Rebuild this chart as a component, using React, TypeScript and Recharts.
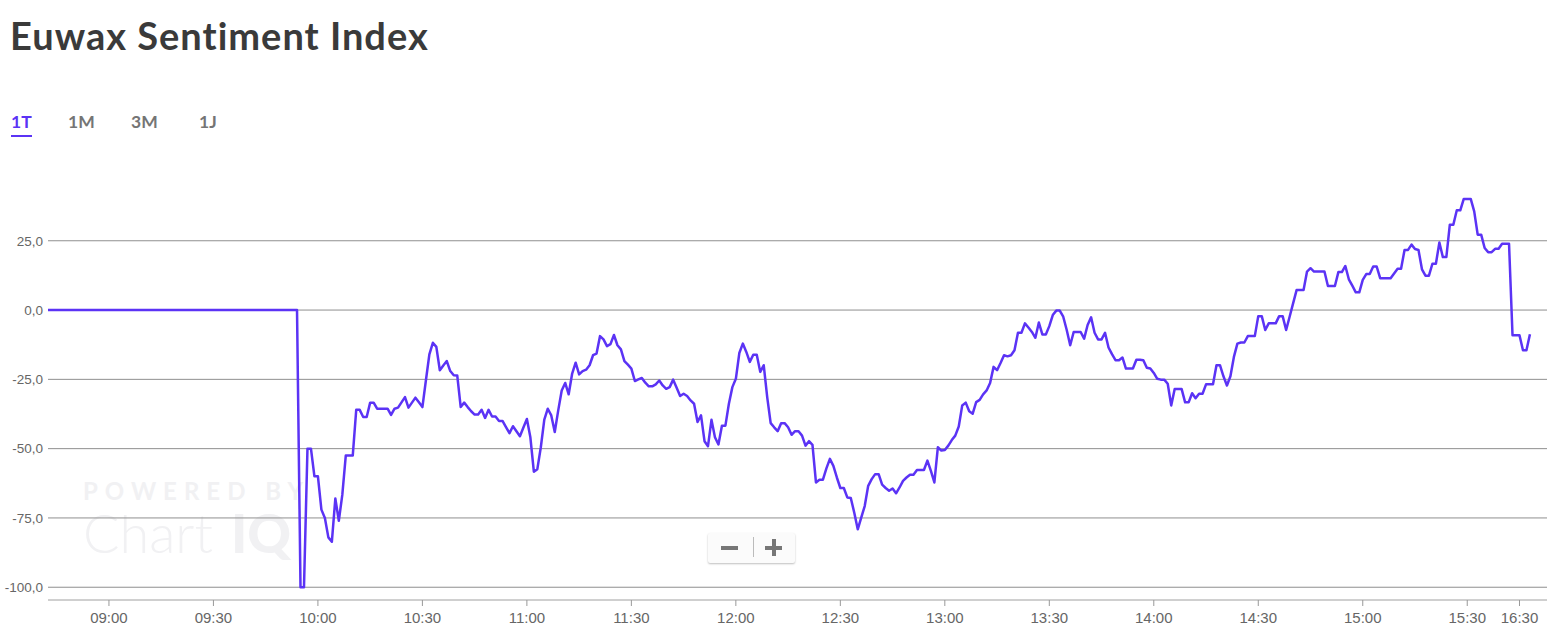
import React from 'react';
import { LineChart, Line, XAxis, YAxis, ReferenceLine } from 'recharts';

// x = minute bar index since 09:00, y = sentiment value
const PRE_OPEN_INDEX = -18;
const PRE_OPEN_VALUE = 0;
const OPEN_INDEX = 54;

const valuesA = [
  0, -100, -100, -50, -50, -60, -60, -72, -75, -82,
  -83.6, -68, -76, -66.7, -52.5, -52.5, -52.5, -36, -36, -38.6,
  -38.6, -33.4, -33.4, -35.6, -35.6, -35.6, -35.6, -37.8, -35.6, -35.2,
  -33.3, -31.4, -35.2, -33.4, -31.6, -33.3, -35, -25.4, -16, -11.8,
  -13.3, -21.7, -20, -18.4, -22, -23.5, -23.6, -35, -33.4, -35,
  -36.5, -37.7, -37.7, -36, -38.9, -36, -38.4, -38.4, -40, -40,
];
const valuesB = [
  -42.2, -44.4, -41.9, -43.7, -45.5, -42.4, -39.3, -45.9, -58.3, -57.4,
  -49.5, -39.5, -35.6, -38, -44, -36.2, -29, -26.3, -30.4, -22.9,
  -19, -23.2, -22, -21.5, -19.9, -16.3, -15.7, -9.4, -10.6, -13,
  -12.3, -9, -12.7, -14.2, -18.4, -19.7, -21.1, -25.6, -25, -24.5,
  -26.2, -27.5, -27.5, -26.8, -25.4, -27.2, -28.4, -27.8, -25.1, -28,
  -31, -30.2, -31, -32.6, -33.8, -40.4, -38, -47.3, -49.1, -39.6,
];
const valuesC = [
  -45.9, -48.5, -41.7, -41.7, -33.8, -27.8, -24.8, -15.5, -12.1, -15.1,
  -18.7, -16.1, -16.1, -22.3, -19.9, -31.4, -40.8, -42.3, -43.7, -40.8,
  -40.8, -42.3, -45, -43.7, -43.7, -45.3, -48.9, -47.3, -48.6, -62.2,
  -61.2, -61.2, -57.1, -53.7, -56.2, -60.4, -64.2, -64.2, -67.6, -67.8,
  -73.1, -79.1, -74.9, -70.7, -63.4, -61, -59.2, -59.2, -63, -64.2,
  -65.2, -64.4, -66.1, -64, -61.6, -60.4, -59.4, -59.4, -57.7, -57.7,
];
const valuesD = [
  -57.7, -54.3, -58, -62.2, -49.5, -50.7, -50.5, -48.9, -46.9, -45.3,
  -42, -34.4, -33.4, -36.5, -37.4, -33.2, -32.4, -30.4, -29, -26.3,
  -20.5, -21.7, -19.1, -16.3, -16.7, -16.3, -14.5, -8.2, -8.2, -4.8,
  -6.3, -7.9, -10, -4.5, -8.8, -8.8, -5.8, -1.8, -0.2, -0.2,
  -2.4, -7.2, -12.7, -7.9, -7.9, -7.9, -10.3, -5.4, -2.6, -8.2,
  -10.6, -10.6, -8.2, -13.5, -15.9, -18.1, -18.1, -17.1, -21.1, -21.1,
];
const valuesE = [
  -21.1, -17.9, -17.9, -18.1, -20.8, -21.1, -22.7, -24.8, -25.1, -25.1,
  -26.6, -34.4, -28.5, -28.5, -28.5, -33.3, -33.3, -30, -31.8, -30.2,
  -30.2, -26.8, -26.8, -26.8, -19.9, -19.9, -23.9, -27.2, -23.9, -16.9,
  -12.1, -11.7, -11.7, -9.4, -9.4, -9.4, -2.2, -2.2, -7.2, -4.8,
  -4.8, -4.8, -2.2, -2.2, -7.2, -2.4, 2.4, 7.2, 7.2, 7.2,
  13.9, 15.1, 13.9, 13.9, 13.9, 13.9, 8.7, 8.7, 8.7, 13.7,
];
const valuesF = [
  13.7, 15.9, 11.1, 8.8, 6.4, 6.4, 10.9, 13, 13, 15.7,
  15.7, 11.5, 11.5, 11.5, 11.5, 13.2, 14.9, 14.9, 21.7, 21.7,
  23.6, 22, 21.7, 14.7, 12.4, 12.4, 16.7, 16.7, 24.4, 19.1,
  19.1, 30.8, 30.8, 36, 36, 40.1, 40.1, 40.1, 35.6, 27.2,
  27.2, 22.4, 20.9, 20.9, 22.1, 22.1, 23.9, 23.9, 23.9, -9.1,
  -9.1, -9.1, -14.5, -14.5, -8.7,
];

const TICK_INDEX = [0, 30, 60, 90, 120, 150, 180, 210, 240, 270, 300, 330, 360, 390, 405];
const TICK_LABELS = [
  '09:00', '09:30', '10:00', '10:30', '11:00', '11:30', '12:00', '12:30',
  '13:00', '13:30', '14:00', '14:30', '15:00', '15:30', '16:30',
];
const Y_TICKS = [-100, -75, -50, -25, 0, 25];
const RANGES = ['1T', '1M', '3M', '1J'];
const RANGE_LEFT = [11, 68, 131, 199];

const PURPLE = '#5b33f5';

const series = [...valuesA, ...valuesB, ...valuesC, ...valuesD, ...valuesE, ...valuesF];
const data = [
  { i: PRE_OPEN_INDEX, v: PRE_OPEN_VALUE },
  ...series.map((v, k) => ({ i: OPEN_INDEX + k, v })),
];

const fmtY = (v: number) => v.toFixed(1).replace('.', ',');
const fmtX = (v: number) => TICK_LABELS[TICK_INDEX.indexOf(v)] ?? '';

export default function App() {
  return (
    <div style={{ position: 'relative', width: 1567, height: 643, background: '#fff', overflow: 'hidden' }}>
      <style>{'body{margin:0}'}</style>

      <div
        style={{
          position: 'absolute', left: 10, top: 16, fontFamily: 'Lato, sans-serif', fontWeight: 700,
          fontSize: 38, letterSpacing: 1, lineHeight: 1, color: '#3a3a3a', whiteSpace: 'nowrap',
        }}
      >
        Euwax Sentiment Index
      </div>

      {RANGES.map((r, k) => (
        <div
          key={r}
          style={{
            position: 'absolute', left: RANGE_LEFT[k], top: 113,
            fontFamily: 'Lato, sans-serif', fontWeight: 700, fontSize: 17.5, lineHeight: 1,
            color: k === 0 ? PURPLE : '#757575', paddingBottom: 4,
            borderBottom: k === 0 ? `2px solid ${PURPLE}` : '2px solid transparent',
          }}
        >
          {r}
        </div>
      ))}

      {/* ChartIQ watermark */}
      <div
        style={{
          position: 'absolute', left: 83, top: 479, color: '#f1f1f3', fontFamily: 'Lato, sans-serif',
          fontSize: 24, fontWeight: 700, letterSpacing: 7, lineHeight: 1, whiteSpace: 'nowrap',
        }}
      >
        POWERED BY
      </div>
      <div
        style={{
          position: 'absolute', left: 83, top: 506, color: '#f1f1f3', fontFamily: 'Lato, sans-serif',
          fontSize: 54, fontWeight: 300, lineHeight: 1, whiteSpace: 'nowrap',
        }}
      >
        Chart<span style={{ fontWeight: 900, marginLeft: 18 }}>IQ</span>
      </div>

      <div style={{ position: 'absolute', left: 0, top: 0 }}>
        <LineChart width={1567} height={643} data={data} margin={{ top: 182, right: 20, bottom: 0, left: 0 }}>
          <XAxis
            dataKey="i"
            type="number"
            domain={[-17.5, 412.9]}
            allowDataOverflow
            ticks={TICK_INDEX}
            tickFormatter={fmtX}
            height={43}
            tickSize={6}
            tickMargin={6}
            interval={0}
            axisLine={{ stroke: '#a0a0a0' }}
            tickLine={{ stroke: '#999' }}
            tick={{ fill: '#666', fontSize: 15, fontFamily: 'Liberation Sans, Arial, sans-serif' }}
          />
          <YAxis
            type="number"
            domain={[-104.6, 46.2]}
            allowDataOverflow
            ticks={Y_TICKS}
            tickFormatter={fmtY}
            width={48}
            axisLine={false}
            tickLine={false}
            tickSize={5}
            tickMargin={0}
            tick={{ fill: '#666', fontSize: 13.5, fontFamily: 'Liberation Sans, Arial, sans-serif' }}
          />
          {Y_TICKS.map((t) => (
            <ReferenceLine key={t} y={t} stroke="#8f8f8f" strokeWidth={1} />
          ))}
          <Line
            type="linear"
            dataKey="v"
            stroke={PURPLE}
            strokeWidth={2.5}
            dot={false}
            activeDot={false}
            strokeLinejoin="round"
            isAnimationActive={false}
          />
        </LineChart>
      </div>

      {/* zoom control */}
      <div
        style={{
          position: 'absolute', left: 708, top: 533, width: 87, height: 30, background: '#fbfbfb',
          borderRadius: 2, boxShadow: '0 1px 2px rgba(0,0,0,0.25)',
        }}
      >
        <div style={{ position: 'absolute', left: 13, top: 13, width: 17, height: 4, background: '#777' }} />
        <div style={{ position: 'absolute', left: 45, top: 4, width: 1, height: 20, background: '#bbb' }} />
        <div style={{ position: 'absolute', left: 57, top: 13, width: 17, height: 4, background: '#777' }} />
        <div style={{ position: 'absolute', left: 64, top: 6, width: 4, height: 17, background: '#777' }} />
      </div>
    </div>
  );
}
